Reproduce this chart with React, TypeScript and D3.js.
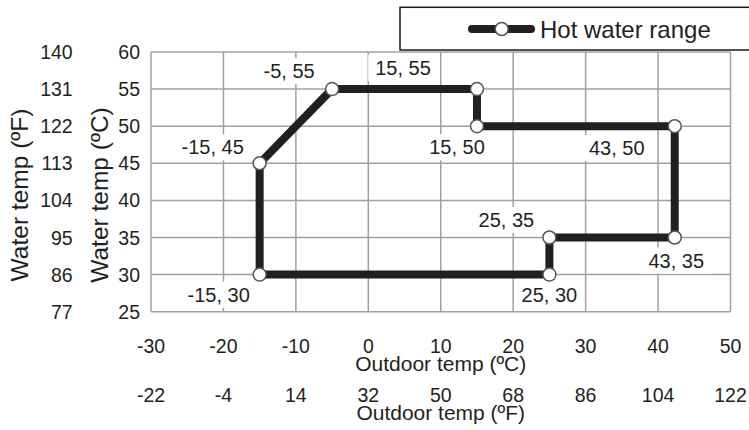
import React, { useEffect, useRef } from "react";
import * as d3 from "d3";

const outdoorC = [-15, -15, -5, 15, 15, 42.3, 42.3, 25, 25];
const waterC = [30, 45, 55, 55, 50, 50, 35, 35, 30];
const pointLabels = ["-15, 30", "-15, 45", "-5, 55", "15, 55", "15, 50", "43, 50", "43, 35", "25, 35", "25, 30"];
const xTicksC = [-30, -20, -10, 0, 10, 20, 30, 40, 50];
const xTicksF = ["-22", "-4", "14", "32", "50", "68", "86", "104", "122"];
const yTicksC = [25, 30, 35, 40, 45, 50, 55, 60];
const yTicksF = ["77", "86", "95", "104", "113", "122", "131", "140"];
const seriesName = "Hot water range";

// label offsets (pixels) relative to each point: [dx of centre, dy of baseline]
const labelOffsets: [number, number][] = [
  [-41, 27], [-47, -9], [-43, -11], [-74, -14], [-20, 28], [-58, 29], [1.5, 30], [-43, -10.5], [0, 27],
];

export default function App() {
  const ref = useRef<SVGSVGElement>(null);
  useEffect(() => {
    const svg = d3.select(ref.current);
    svg.selectAll("*").remove();
    const font = "'Liberation Sans', Arial, sans-serif";
    const ink = "#231f20";
    const x = d3.scaleLinear().domain([-30, 50]).range([151, 730.5]);
    const y = d3.scaleLinear().domain([25, 60]).range([311.7, 52]);

    const grid = svg.append("g");
    grid.selectAll("line.v").data(xTicksC).enter().append("line")
      .attr("x1", d => x(d)).attr("x2", d => x(d)).attr("y1", y(25)).attr("y2", y(60))
      .attr("stroke", "#a0a0a0").attr("stroke-width", 1.5);
    grid.selectAll("line.h").data(yTicksC).enter().append("line")
      .attr("y1", d => y(d)).attr("y2", d => y(d)).attr("x1", x(-30)).attr("x2", x(50))
      .attr("stroke", "#a0a0a0").attr("stroke-width", 1.5);

    // y ticks
    svg.append("g").selectAll("text").data(yTicksC).enter().append("text")
      .attr("x", 140).attr("y", d => y(d)).attr("dy", "0.36em").attr("text-anchor", "end")
      .attr("font-family", font).attr("font-size", 19.5).attr("fill", ink).text(d => String(d));
    svg.append("g").selectAll("text").data(yTicksF).enter().append("text")
      .attr("x", 72.7).attr("y", (d, i) => y(yTicksC[i])).attr("dy", "0.36em").attr("text-anchor", "end")
      .attr("font-family", font).attr("font-size", 19.5).attr("fill", ink).text(d => d);

    // x ticks
    svg.append("g").selectAll("text").data(xTicksC).enter().append("text")
      .attr("x", d => x(d)).attr("y", 353).attr("text-anchor", "middle")
      .attr("font-family", font).attr("font-size", 19.5).attr("fill", ink).text(d => String(d));
    svg.append("g").selectAll("text").data(xTicksF).enter().append("text")
      .attr("x", (d, i) => x(xTicksC[i])).attr("y", 401.5).attr("text-anchor", "middle")
      .attr("font-family", font).attr("font-size", 19.5).attr("fill", ink).text(d => d);

    // axis titles
    svg.append("text").attr("x", x(10)).attr("y", 371).attr("text-anchor", "middle")
      .attr("font-family", font).attr("font-size", 21).attr("fill", ink).text("Outdoor temp (ºC)");
    svg.append("text").attr("x", x(10)).attr("y", 420).attr("text-anchor", "middle")
      .attr("font-family", font).attr("font-size", 21).attr("fill", ink).text("Outdoor temp (ºF)");
    svg.append("text").attr("transform", "translate(28,195) rotate(-90)").attr("text-anchor", "middle")
      .attr("font-family", font).attr("font-size", 24.5).attr("fill", ink).text("Water temp (ºF)");
    svg.append("text").attr("transform", "translate(108,195) rotate(-90)").attr("text-anchor", "middle")
      .attr("font-family", font).attr("font-size", 24.5).attr("fill", ink).text("Water temp (ºC)");

    // series
    const pts: [number, number][] = outdoorC.map((d, i) => [d, waterC[i]]);
    const line = d3.line<[number, number]>().x(d => x(d[0])).y(d => y(d[1])).curve(d3.curveLinearClosed);
    svg.append("path").attr("d", line(pts)).attr("fill", "none").attr("stroke", ink)
      .attr("stroke-width", 8).attr("stroke-linejoin", "miter");

    // labels
    const lg = svg.append("g");
    pts.forEach((p, i) => {
      const g = lg.append("g");
      const t = g.append("text").attr("x", x(p[0]) + labelOffsets[i][0]).attr("y", y(p[1]) + labelOffsets[i][1])
        .attr("text-anchor", "middle").attr("font-family", font).attr("font-size", 20).attr("fill", ink)
        .text(pointLabels[i]);
      const bb = (t.node() as SVGTextElement).getBBox();
      g.insert("rect", "text").attr("x", bb.x - 7).attr("y", bb.y - 2).attr("width", bb.width + 14)
        .attr("height", bb.height + 4).attr("fill", "#fff");
    });

    svg.append("g").selectAll("circle").data(pts).enter().append("circle")
      .attr("cx", d => x(d[0])).attr("cy", d => y(d[1])).attr("r", 6.5)
      .attr("fill", "#fff").attr("stroke", "#555").attr("stroke-width", 1.5);

    // legend
    svg.append("rect").attr("x", 400).attr("y", 7.3).attr("width", 360).attr("height", 42.7)
      .attr("fill", "#fff").attr("stroke", "#1a1a1a").attr("stroke-width", 1.5);
    svg.append("line").attr("x1", 472).attr("x2", 531).attr("y1", 29).attr("y2", 29)
      .attr("stroke", ink).attr("stroke-width", 8).attr("stroke-linecap", "round");
    svg.append("circle").attr("cx", 501.7).attr("cy", 29).attr("r", 6.5)
      .attr("fill", "#fff").attr("stroke", "#555").attr("stroke-width", 1.5);
    svg.append("text").attr("x", 540).attr("y", 37.5).attr("font-family", font).attr("font-size", 24)
      .attr("fill", ink).text(seriesName);
  }, []);
  return (
    <svg ref={ref} width={749} height={430}
      style={{ position: "absolute", left: 0, top: 0, background: "#fff" }} />
  );
}
